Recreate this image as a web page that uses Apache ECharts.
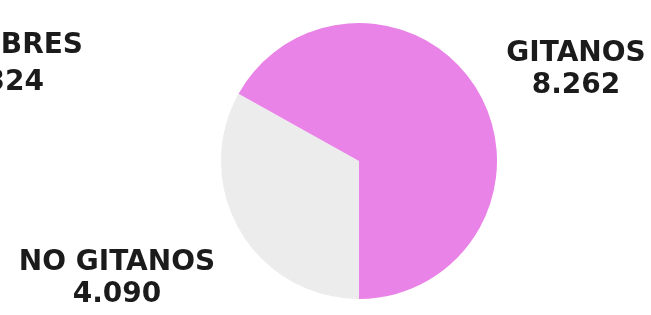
<!DOCTYPE html>
<html>
<head>
<meta charset="utf-8">
<script src="https://cdn.jsdelivr.net/npm/echarts@6/dist/echarts.min.js"></script>
<style>
  html, body { margin: 0; padding: 0; background: #fff; }
  #chart { width: 651px; height: 315px; }
</style>
</head>
<body>
<div id="chart"></div>
<script>
// datos de la tarta (el orden sigue el giro horario desde abajo)
var categories = ['NO GITANOS', 'GITANOS'];
var values = [4090, 8262];
var colors = ['#ECECEC', '#E983E7'];

// rotulo del grafico vecino, cortado por el borde izquierdo
var sideTitle = 'HOMBRES';
var sideValue = '12.324';

// puntos como separador de miles, igual que el original
function fmt(n) {
  return String(n).replace(/\B(?=(\d{3})+(?!\d))/g, '.');
}

var labelPos = [
  { x: 117, y: 279 },
  { x: 576, y: 70 }
];

var font = 'DejaVu Sans';
var chart = echarts.init(document.getElementById('chart'), null, { renderer: 'canvas' });

chart.setOption({
  animation: false,
  series: [{
    type: 'pie',
    center: [359, 161],
    radius: 138,
    startAngle: 270,
    clockwise: true,
    silent: true,
    itemStyle: { borderWidth: 0 },
    label: {
      show: true,
      position: 'outside',
      overflow: 'none',
      formatter: function (p) { return '{n|' + p.name + '}\n{v|' + fmt(p.value) + '}'; },
      rich: {
        n: { fontFamily: font, fontWeight: 'bold', fontSize: 28, lineHeight: 32, color: '#1b1b1b', align: 'center' },
        v: { fontFamily: font, fontWeight: 'bold', fontSize: 28, lineHeight: 32, color: '#1b1b1b', align: 'center' }
      }
    },
    labelLine: { show: false },
    labelLayout: function (params) {
      var p = labelPos[params.dataIndex];
      return { x: p.x, y: p.y, align: 'center', verticalAlign: 'middle' };
    },
    data: categories.map(function (c, i) {
      return { name: c, value: values[i], itemStyle: { color: colors[i] } };
    })
  }],
  graphic: [
    { type: 'text', x: 83, y: 46, style: { text: sideTitle, font: 'bold 28px "DejaVu Sans"', fill: '#1b1b1b', textAlign: 'right', textVerticalAlign: 'middle' } },
    { type: 'text', x: 44, y: 83, style: { text: sideValue, font: 'bold 28px "DejaVu Sans"', fill: '#1b1b1b', textAlign: 'right', textVerticalAlign: 'middle' } }
  ]
});
</script>
</body>
</html>
